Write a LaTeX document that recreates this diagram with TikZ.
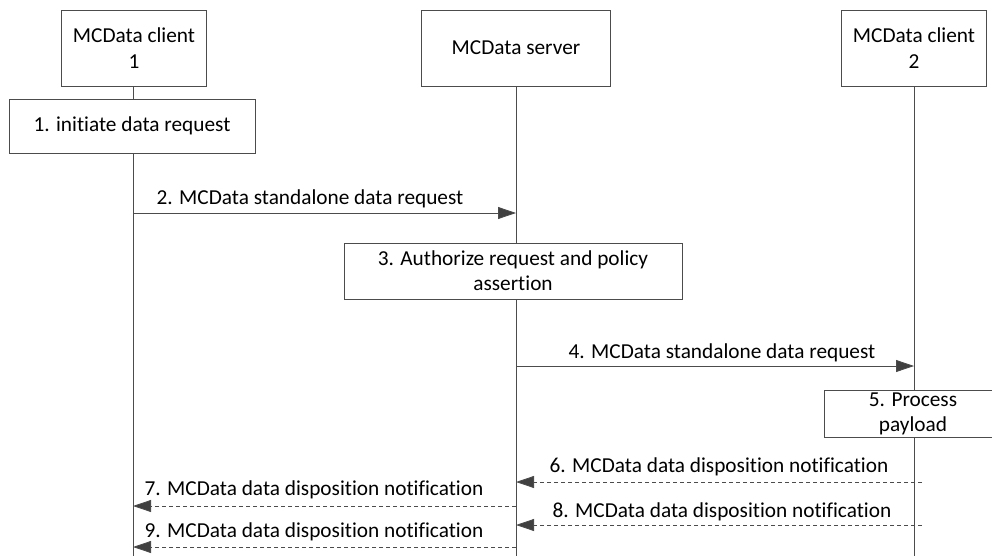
\documentclass[tikz,border=0pt]{standalone}
\usepackage{fontspec}
\setmainfont[Ligatures=NoCommon]{Carlito}
\usetikzlibrary{arrows.meta}

\tikzset{
    entity/.style={draw=black!70, fill=white, align=center, inner sep=0pt, font=\fontsize{21.3}{26}\selectfont},
    stepbox/.style={draw=black!70, fill=white, align=center, inner sep=0pt, font=\fontsize{21.3}{25}\selectfont},
    lifeline/.style={draw=black!70, line width=0.8pt},
    msg/.style={draw=black!70, line width=0.8pt, -{Triangle[length=18pt, width=12pt, fill=black!75]}},
    reply/.style={msg, dash pattern=on 4pt off 3pt},
    lbl/.style={inner sep=0pt, font=\fontsize{21.3}{25}\selectfont}
}

\begin{document}
\begin{tikzpicture}[x=1pt, y=-1pt]
    \useasboundingbox (0,0) rectangle (992,556);

    % Lifelines
    \coordinate (c1end) at (133,556);
    \coordinate (srvend) at (516,556);
    \coordinate (c2end) at (914,556);
    \node[entity, minimum width=145pt, minimum height=76pt] (c1) at (134,48) {MCData client\\1};
    \node[entity, minimum width=189pt, minimum height=76pt] (srv) at (516,48) {MCData server};
    \node[entity, minimum width=145pt, minimum height=76pt] (c2) at (914,48) {MCData client\\2};
    \draw[lifeline] (c1.south -| c1end) -- (c1end);
    \draw[lifeline] (srv.south) -- (srvend);
    \draw[lifeline] (c2.south) -- (c2end);

    % Local steps
    \node[stepbox, minimum width=246pt, minimum height=54pt] (s1) at (132,126) {1. initiate data request};
    \node[stepbox, minimum width=338pt, minimum height=56pt] (s3) at (513,271) {3. Authorize request and policy\\assertion};
    \node[stepbox, minimum width=178pt, minimum height=47pt] (s5) at (913,413.5) {5. Process\\payload};

    % Requests
    \coordinate (m2a) at (133,213);
    \coordinate (m2b) at (516,213);
    \draw[msg] (m2a) -- (m2b);
    \node[lbl] (l2) at (310,199) {2. MCData standalone data request};

    \coordinate (m4a) at (516,366);
    \coordinate (m4b) at (914,366);
    \draw[msg] (m4a) -- (m4b);
    \node[lbl] (l4) at (722,353) {4. MCData standalone data request};

    % Disposition notifications
    \coordinate (m6a) at (922,482);
    \coordinate (m6b) at (516,482);
    \draw[reply] (m6a) -- (m6b);
    \node[lbl] (l6) at (719,467) {6. MCData data disposition notification};

    \coordinate (m7a) at (516,506);
    \coordinate (m7b) at (133,506);
    \draw[reply] (m7a) -- (m7b);
    \node[lbl] (l7) at (314,490) {7. MCData data disposition notification};

    \coordinate (m8a) at (922,525);
    \coordinate (m8b) at (516,525);
    \draw[reply] (m8a) -- (m8b);
    \node[lbl] (l8) at (722,512) {8. MCData data disposition notification};

    \coordinate (m9a) at (516,547);
    \coordinate (m9b) at (133,547);
    \draw[reply] (m9a) -- (m9b);
    \node[lbl] (l9) at (314,532) {9. MCData data disposition notification};
\end{tikzpicture}
\end{document}
